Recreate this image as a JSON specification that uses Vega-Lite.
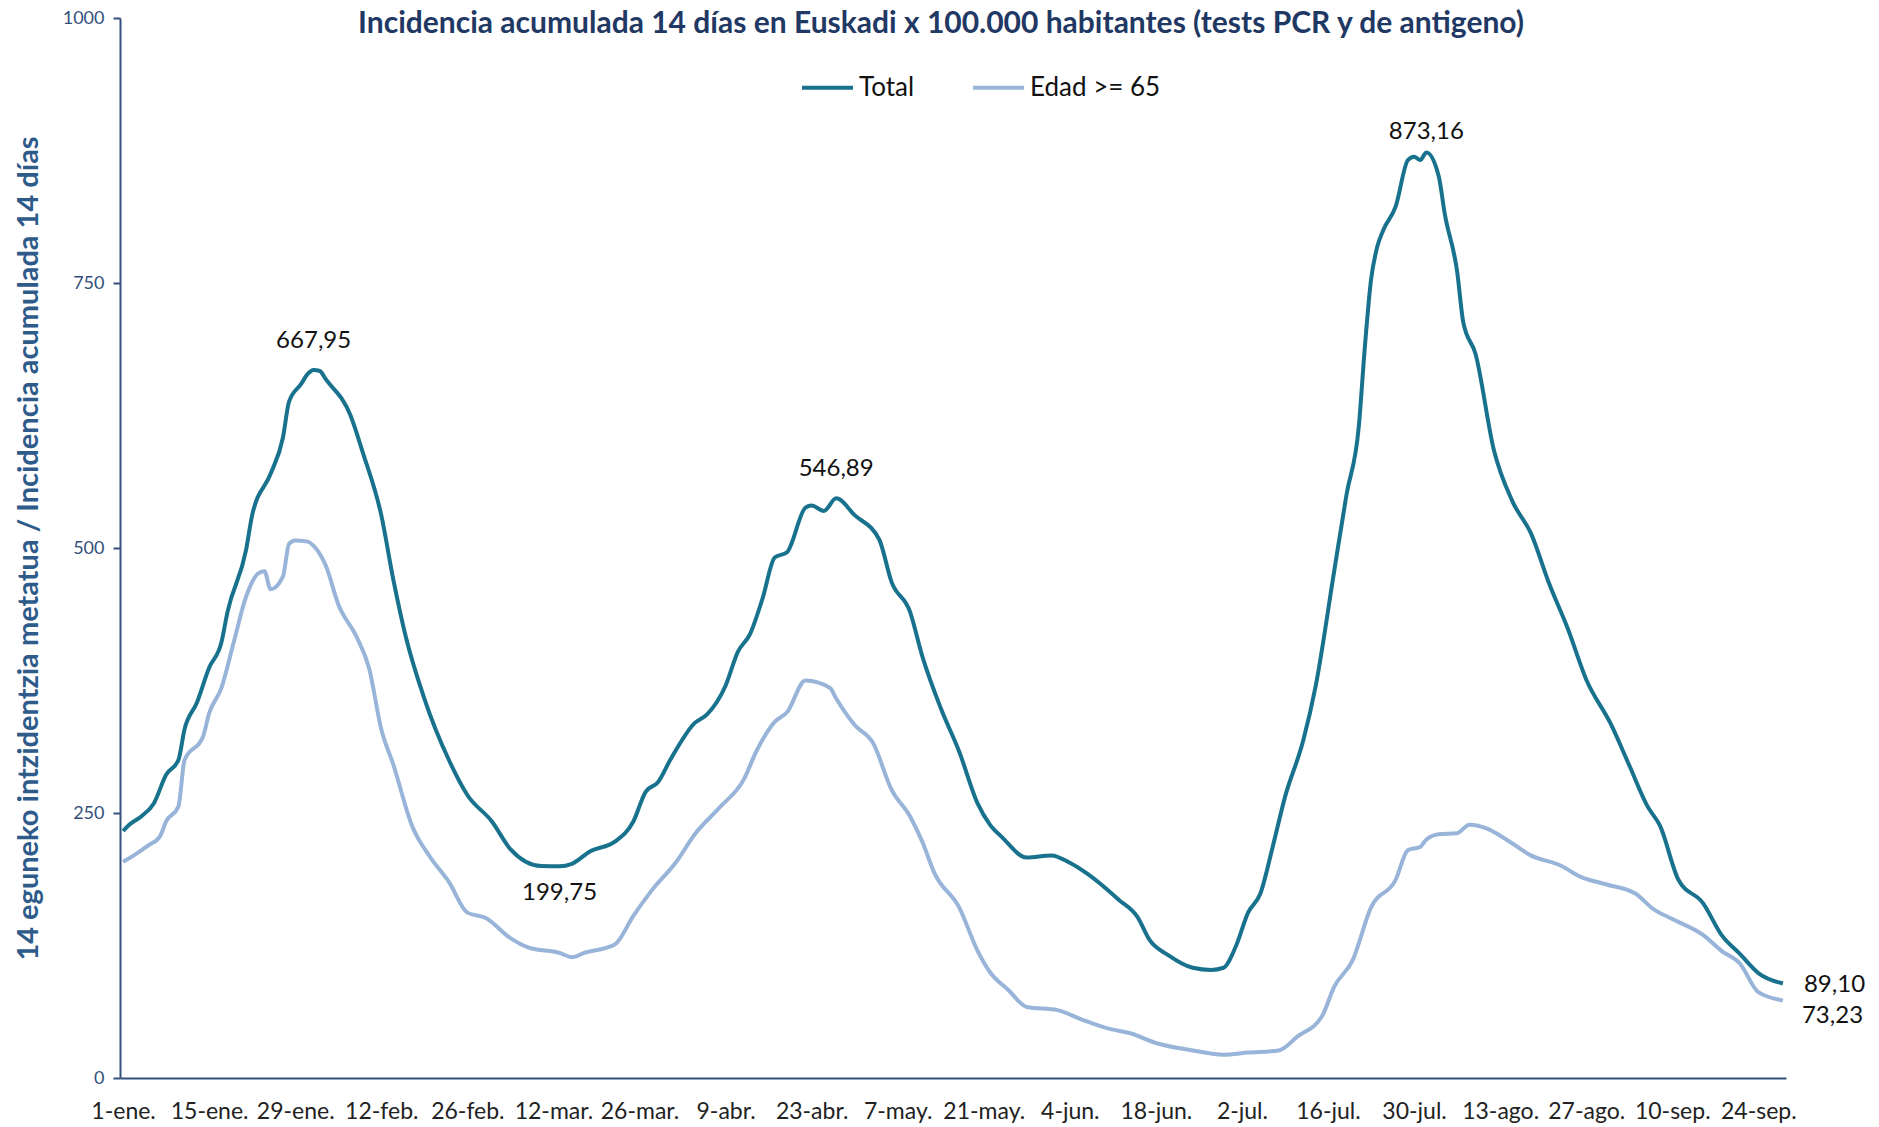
{
  "$schema": "https://vega.github.io/schema/vega-lite/v6.json",
  "width": 1666,
  "height": 1060,
  "autosize": {"type": "none"},
  "padding": {"left": 120, "top": 18, "right": 93, "bottom": 49},
  "background": "white",
  "title": {
    "text": "Incidencia acumulada 14 días en Euskadi x 100.000 habitantes (tests PCR y de antigeno)",
    "font": "Lato",
    "fontSize": 30,
    "fontWeight": "bold",
    "color": "#1f3864",
    "anchor": "middle",
    "offset": -30,
    "dx": -12
  },
  "datasets": {
    "series": [
      {"date": "2021-01-01", "serie": "Total", "value": 233},
      {"date": "2021-01-02", "serie": "Total", "value": 239},
      {"date": "2021-01-04", "serie": "Total", "value": 247},
      {"date": "2021-01-06", "serie": "Total", "value": 259},
      {"date": "2021-01-08", "serie": "Total", "value": 286},
      {"date": "2021-01-10", "serie": "Total", "value": 300},
      {"date": "2021-01-11", "serie": "Total", "value": 329},
      {"date": "2021-01-13", "serie": "Total", "value": 354},
      {"date": "2021-01-15", "serie": "Total", "value": 387},
      {"date": "2021-01-17", "serie": "Total", "value": 411},
      {"date": "2021-01-18", "serie": "Total", "value": 440},
      {"date": "2021-01-21", "serie": "Total", "value": 498},
      {"date": "2021-01-22", "serie": "Total", "value": 531},
      {"date": "2021-01-25", "serie": "Total", "value": 570},
      {"date": "2021-01-27", "serie": "Total", "value": 604},
      {"date": "2021-01-28", "serie": "Total", "value": 638},
      {"date": "2021-01-30", "serie": "Total", "value": 655},
      {"date": "2021-01-31", "serie": "Total", "value": 664},
      {"date": "2021-02-01", "serie": "Total", "value": 667.95},
      {"date": "2021-02-02", "serie": "Total", "value": 667},
      {"date": "2021-02-03", "serie": "Total", "value": 659},
      {"date": "2021-02-07", "serie": "Total", "value": 625},
      {"date": "2021-02-09", "serie": "Total", "value": 590},
      {"date": "2021-02-12", "serie": "Total", "value": 531},
      {"date": "2021-02-14", "serie": "Total", "value": 469},
      {"date": "2021-02-16", "serie": "Total", "value": 416},
      {"date": "2021-02-19", "serie": "Total", "value": 358},
      {"date": "2021-02-23", "serie": "Total", "value": 300},
      {"date": "2021-02-26", "serie": "Total", "value": 267},
      {"date": "2021-03-02", "serie": "Total", "value": 242},
      {"date": "2021-03-05", "serie": "Total", "value": 216},
      {"date": "2021-03-10", "serie": "Total", "value": 200},
      {"date": "2021-03-13", "serie": "Total", "value": 199.75},
      {"date": "2021-03-15", "serie": "Total", "value": 202},
      {"date": "2021-03-18", "serie": "Total", "value": 214},
      {"date": "2021-03-22", "serie": "Total", "value": 223},
      {"date": "2021-03-25", "serie": "Total", "value": 242},
      {"date": "2021-03-27", "serie": "Total", "value": 270},
      {"date": "2021-03-29", "serie": "Total", "value": 279},
      {"date": "2021-03-31", "serie": "Total", "value": 300},
      {"date": "2021-04-04", "serie": "Total", "value": 335},
      {"date": "2021-04-06", "serie": "Total", "value": 343},
      {"date": "2021-04-09", "serie": "Total", "value": 370},
      {"date": "2021-04-11", "serie": "Total", "value": 402},
      {"date": "2021-04-13", "serie": "Total", "value": 419},
      {"date": "2021-04-15", "serie": "Total", "value": 452},
      {"date": "2021-04-17", "serie": "Total", "value": 491},
      {"date": "2021-04-19", "serie": "Total", "value": 496},
      {"date": "2021-04-22", "serie": "Total", "value": 538},
      {"date": "2021-04-23", "serie": "Total", "value": 540},
      {"date": "2021-04-25", "serie": "Total", "value": 535},
      {"date": "2021-04-27", "serie": "Total", "value": 546.89},
      {"date": "2021-04-30", "serie": "Total", "value": 531},
      {"date": "2021-05-04", "serie": "Total", "value": 508},
      {"date": "2021-05-06", "serie": "Total", "value": 468},
      {"date": "2021-05-09", "serie": "Total", "value": 440},
      {"date": "2021-05-11", "serie": "Total", "value": 398},
      {"date": "2021-05-14", "serie": "Total", "value": 349},
      {"date": "2021-05-17", "serie": "Total", "value": 308},
      {"date": "2021-05-20", "serie": "Total", "value": 259},
      {"date": "2021-05-22", "serie": "Total", "value": 239},
      {"date": "2021-05-24", "serie": "Total", "value": 227},
      {"date": "2021-05-28", "serie": "Total", "value": 208},
      {"date": "2021-06-01", "serie": "Total", "value": 210},
      {"date": "2021-06-04", "serie": "Total", "value": 203},
      {"date": "2021-06-07", "serie": "Total", "value": 192},
      {"date": "2021-06-12", "serie": "Total", "value": 168},
      {"date": "2021-06-15", "serie": "Total", "value": 152},
      {"date": "2021-06-17", "serie": "Total", "value": 130},
      {"date": "2021-06-20", "serie": "Total", "value": 116},
      {"date": "2021-06-24", "serie": "Total", "value": 104},
      {"date": "2021-06-27", "serie": "Total", "value": 102},
      {"date": "2021-06-29", "serie": "Total", "value": 104},
      {"date": "2021-07-01", "serie": "Total", "value": 124},
      {"date": "2021-07-03", "serie": "Total", "value": 156},
      {"date": "2021-07-05", "serie": "Total", "value": 174},
      {"date": "2021-07-07", "serie": "Total", "value": 218},
      {"date": "2021-07-09", "serie": "Total", "value": 265},
      {"date": "2021-07-12", "serie": "Total", "value": 319},
      {"date": "2021-07-14", "serie": "Total", "value": 370},
      {"date": "2021-07-17", "serie": "Total", "value": 478},
      {"date": "2021-07-19", "serie": "Total", "value": 550},
      {"date": "2021-07-21", "serie": "Total", "value": 614},
      {"date": "2021-07-22", "serie": "Total", "value": 690},
      {"date": "2021-07-23", "serie": "Total", "value": 753},
      {"date": "2021-07-24", "serie": "Total", "value": 784},
      {"date": "2021-07-25", "serie": "Total", "value": 800},
      {"date": "2021-07-27", "serie": "Total", "value": 822},
      {"date": "2021-07-29", "serie": "Total", "value": 866},
      {"date": "2021-07-30", "serie": "Total", "value": 869},
      {"date": "2021-07-31", "serie": "Total", "value": 866},
      {"date": "2021-08-01", "serie": "Total", "value": 873.16},
      {"date": "2021-08-03", "serie": "Total", "value": 851},
      {"date": "2021-08-04", "serie": "Total", "value": 815},
      {"date": "2021-08-06", "serie": "Total", "value": 761},
      {"date": "2021-08-07", "serie": "Total", "value": 713},
      {"date": "2021-08-09", "serie": "Total", "value": 683},
      {"date": "2021-08-12", "serie": "Total", "value": 592},
      {"date": "2021-08-15", "serie": "Total", "value": 544},
      {"date": "2021-08-18", "serie": "Total", "value": 514},
      {"date": "2021-08-21", "serie": "Total", "value": 466},
      {"date": "2021-08-24", "serie": "Total", "value": 424},
      {"date": "2021-08-27", "serie": "Total", "value": 376},
      {"date": "2021-08-31", "serie": "Total", "value": 334},
      {"date": "2021-09-03", "serie": "Total", "value": 295},
      {"date": "2021-09-06", "serie": "Total", "value": 256},
      {"date": "2021-09-08", "serie": "Total", "value": 238},
      {"date": "2021-09-11", "serie": "Total", "value": 187},
      {"date": "2021-09-15", "serie": "Total", "value": 165},
      {"date": "2021-09-18", "serie": "Total", "value": 135},
      {"date": "2021-09-21", "serie": "Total", "value": 117},
      {"date": "2021-09-24", "serie": "Total", "value": 99},
      {"date": "2021-09-28", "serie": "Total", "value": 89.1},
      {"date": "2021-01-01", "serie": "Edad >= 65", "value": 204},
      {"date": "2021-01-03", "serie": "Edad >= 65", "value": 211},
      {"date": "2021-01-05", "serie": "Edad >= 65", "value": 219},
      {"date": "2021-01-07", "serie": "Edad >= 65", "value": 228},
      {"date": "2021-01-08", "serie": "Edad >= 65", "value": 242},
      {"date": "2021-01-10", "serie": "Edad >= 65", "value": 256},
      {"date": "2021-01-11", "serie": "Edad >= 65", "value": 300},
      {"date": "2021-01-14", "serie": "Edad >= 65", "value": 322},
      {"date": "2021-01-15", "serie": "Edad >= 65", "value": 344},
      {"date": "2021-01-17", "serie": "Edad >= 65", "value": 368},
      {"date": "2021-01-19", "serie": "Edad >= 65", "value": 411},
      {"date": "2021-01-21", "serie": "Edad >= 65", "value": 454},
      {"date": "2021-01-23", "serie": "Edad >= 65", "value": 476},
      {"date": "2021-01-24", "serie": "Edad >= 65", "value": 478},
      {"date": "2021-01-25", "serie": "Edad >= 65", "value": 461},
      {"date": "2021-01-27", "serie": "Edad >= 65", "value": 473},
      {"date": "2021-01-28", "serie": "Edad >= 65", "value": 504},
      {"date": "2021-01-29", "serie": "Edad >= 65", "value": 507},
      {"date": "2021-01-31", "serie": "Edad >= 65", "value": 506},
      {"date": "2021-02-01", "serie": "Edad >= 65", "value": 502},
      {"date": "2021-02-03", "serie": "Edad >= 65", "value": 483},
      {"date": "2021-02-05", "serie": "Edad >= 65", "value": 447},
      {"date": "2021-02-08", "serie": "Edad >= 65", "value": 416},
      {"date": "2021-02-10", "serie": "Edad >= 65", "value": 387},
      {"date": "2021-02-12", "serie": "Edad >= 65", "value": 329},
      {"date": "2021-02-14", "serie": "Edad >= 65", "value": 295},
      {"date": "2021-02-17", "serie": "Edad >= 65", "value": 238},
      {"date": "2021-02-20", "serie": "Edad >= 65", "value": 208},
      {"date": "2021-02-23", "serie": "Edad >= 65", "value": 185},
      {"date": "2021-02-26", "serie": "Edad >= 65", "value": 156},
      {"date": "2021-03-01", "serie": "Edad >= 65", "value": 151},
      {"date": "2021-03-05", "serie": "Edad >= 65", "value": 132},
      {"date": "2021-03-08", "serie": "Edad >= 65", "value": 123},
      {"date": "2021-03-13", "serie": "Edad >= 65", "value": 118},
      {"date": "2021-03-15", "serie": "Edad >= 65", "value": 114},
      {"date": "2021-03-17", "serie": "Edad >= 65", "value": 118},
      {"date": "2021-03-22", "serie": "Edad >= 65", "value": 126},
      {"date": "2021-03-25", "serie": "Edad >= 65", "value": 153},
      {"date": "2021-03-28", "serie": "Edad >= 65", "value": 177},
      {"date": "2021-04-01", "serie": "Edad >= 65", "value": 204},
      {"date": "2021-04-04", "serie": "Edad >= 65", "value": 230},
      {"date": "2021-04-08", "serie": "Edad >= 65", "value": 255},
      {"date": "2021-04-12", "serie": "Edad >= 65", "value": 282},
      {"date": "2021-04-14", "serie": "Edad >= 65", "value": 308},
      {"date": "2021-04-17", "serie": "Edad >= 65", "value": 336},
      {"date": "2021-04-19", "serie": "Edad >= 65", "value": 345},
      {"date": "2021-04-22", "serie": "Edad >= 65", "value": 375},
      {"date": "2021-04-26", "serie": "Edad >= 65", "value": 368},
      {"date": "2021-04-27", "serie": "Edad >= 65", "value": 358},
      {"date": "2021-04-30", "serie": "Edad >= 65", "value": 333},
      {"date": "2021-05-03", "serie": "Edad >= 65", "value": 316},
      {"date": "2021-05-06", "serie": "Edad >= 65", "value": 272},
      {"date": "2021-05-09", "serie": "Edad >= 65", "value": 247},
      {"date": "2021-05-11", "serie": "Edad >= 65", "value": 223},
      {"date": "2021-05-13", "serie": "Edad >= 65", "value": 193},
      {"date": "2021-05-17", "serie": "Edad >= 65", "value": 161},
      {"date": "2021-05-20", "serie": "Edad >= 65", "value": 120},
      {"date": "2021-05-22", "serie": "Edad >= 65", "value": 100},
      {"date": "2021-05-25", "serie": "Edad >= 65", "value": 83},
      {"date": "2021-05-28", "serie": "Edad >= 65", "value": 67},
      {"date": "2021-06-02", "serie": "Edad >= 65", "value": 64},
      {"date": "2021-06-06", "serie": "Edad >= 65", "value": 55},
      {"date": "2021-06-10", "serie": "Edad >= 65", "value": 47},
      {"date": "2021-06-14", "serie": "Edad >= 65", "value": 42},
      {"date": "2021-06-18", "serie": "Edad >= 65", "value": 33},
      {"date": "2021-06-24", "serie": "Edad >= 65", "value": 26},
      {"date": "2021-06-29", "serie": "Edad >= 65", "value": 22},
      {"date": "2021-07-03", "serie": "Edad >= 65", "value": 24},
      {"date": "2021-07-08", "serie": "Edad >= 65", "value": 26},
      {"date": "2021-07-11", "serie": "Edad >= 65", "value": 39},
      {"date": "2021-07-15", "serie": "Edad >= 65", "value": 58},
      {"date": "2021-07-17", "serie": "Edad >= 65", "value": 86},
      {"date": "2021-07-20", "serie": "Edad >= 65", "value": 111},
      {"date": "2021-07-23", "serie": "Edad >= 65", "value": 161},
      {"date": "2021-07-27", "serie": "Edad >= 65", "value": 187},
      {"date": "2021-07-29", "serie": "Edad >= 65", "value": 215},
      {"date": "2021-07-31", "serie": "Edad >= 65", "value": 218},
      {"date": "2021-08-01", "serie": "Edad >= 65", "value": 225},
      {"date": "2021-08-03", "serie": "Edad >= 65", "value": 230},
      {"date": "2021-08-06", "serie": "Edad >= 65", "value": 231},
      {"date": "2021-08-08", "serie": "Edad >= 65", "value": 239},
      {"date": "2021-08-11", "serie": "Edad >= 65", "value": 235},
      {"date": "2021-08-14", "serie": "Edad >= 65", "value": 225},
      {"date": "2021-08-18", "serie": "Edad >= 65", "value": 210},
      {"date": "2021-08-23", "serie": "Edad >= 65", "value": 200},
      {"date": "2021-08-26", "serie": "Edad >= 65", "value": 190},
      {"date": "2021-08-30", "serie": "Edad >= 65", "value": 183},
      {"date": "2021-09-04", "serie": "Edad >= 65", "value": 174},
      {"date": "2021-09-07", "serie": "Edad >= 65", "value": 159},
      {"date": "2021-09-10", "serie": "Edad >= 65", "value": 150},
      {"date": "2021-09-15", "serie": "Edad >= 65", "value": 135},
      {"date": "2021-09-18", "serie": "Edad >= 65", "value": 120},
      {"date": "2021-09-21", "serie": "Edad >= 65", "value": 108},
      {"date": "2021-09-24", "serie": "Edad >= 65", "value": 81},
      {"date": "2021-09-28", "serie": "Edad >= 65", "value": 73.23}
    ]
  },
  "layer": [
    {
      "data": {"name": "series", "format": {"parse": {"date": "date:'%Y-%m-%d'"}}},
      "mark": {"type": "line", "strokeWidth": 4, "interpolate": "monotone"},
      "encoding": {
        "x": {
          "field": "date",
          "type": "temporal",
          "scale": {"domain": [{"year": 2020, "month": 12, "date": 31, "hours": 12}, {"year": 2021, "month": 9, "date": 28, "hours": 12}]},
          "axis": {
            "title": null,
            "values": [
              {"year": 2021, "month": 1, "date": 1},
              {"year": 2021, "month": 1, "date": 15},
              {"year": 2021, "month": 1, "date": 29},
              {"year": 2021, "month": 2, "date": 12},
              {"year": 2021, "month": 2, "date": 26},
              {"year": 2021, "month": 3, "date": 12},
              {"year": 2021, "month": 3, "date": 26},
              {"year": 2021, "month": 4, "date": 9},
              {"year": 2021, "month": 4, "date": 23},
              {"year": 2021, "month": 5, "date": 7},
              {"year": 2021, "month": 5, "date": 21},
              {"year": 2021, "month": 6, "date": 4},
              {"year": 2021, "month": 6, "date": 18},
              {"year": 2021, "month": 7, "date": 2},
              {"year": 2021, "month": 7, "date": 16},
              {"year": 2021, "month": 7, "date": 30},
              {"year": 2021, "month": 8, "date": 13},
              {"year": 2021, "month": 8, "date": 27},
              {"year": 2021, "month": 9, "date": 10},
              {"year": 2021, "month": 9, "date": 24}
            ],
            "labelExpr": "date(datum.value) + '-' + ['ene','feb','mar','abr','may','jun','jul','ago','sep','oct','nov','dic'][month(datum.value)] + '.'",
            "labelFont": "Lato",
            "labelFontSize": 23,
            "labelColor": "#222222",
            "labelPadding": 22,
            "labelOverlap": false,
            "labelFlush": false,
            "ticks": false,
            "grid": false,
            "domainColor": "#34507c",
            "domainWidth": 2
          }
        },
        "y": {
          "field": "value",
          "type": "quantitative",
          "scale": {"domain": [0, 1000], "nice": false},
          "axis": {
            "title": "14 eguneko intzidentzia metatua / Incidencia acumulada 14 días",
            "titleFont": "Lato",
            "titleFontSize": 29,
            "titleFontWeight": "bold",
            "titleColor": "#2e5b8a",
            "titlePadding": 19,
            "values": [0, 250, 500, 750, 1000],
            "format": "d",
            "labelFont": "Lato",
            "labelFontSize": 18,
            "labelColor": "#34507c",
            "labelPadding": 9,
            "tickSize": 7,
            "tickColor": "#34507c",
            "tickWidth": 2,
            "grid": false,
            "domainColor": "#34507c",
            "domainWidth": 2
          }
        },
        "color": {
          "field": "serie",
          "type": "nominal",
          "scale": {"domain": ["Total", "Edad >= 65"], "range": ["#19728d", "#98b4d8"]},
          "legend": {
            "title": null,
            "orient": "none",
            "direction": "horizontal",
            "legendX": 680,
            "legendY": 42,
            "symbolType": "stroke",
            "symbolSize": 2600,
            "symbolStrokeWidth": 4,
            "labelFont": "Lato",
            "labelFontSize": 26,
            "labelColor": "#111111",
            "labelOffset": 4,
            "columnPadding": 50
          }
        }
      }
    },
    {
      "data": {
        "values": [
          {"date": "2021-02-01", "value": 667.95, "label": "667,95", "pos": "above"},
          {"date": "2021-04-27", "value": 546.89, "label": "546,89", "pos": "above"},
          {"date": "2021-08-01", "value": 873.16, "label": "873,16", "pos": "peak"},
          {"date": "2021-03-13", "value": 199.75, "label": "199,75", "pos": "below"},
          {"date": "2021-09-28", "value": 89.1, "label": "89,10", "pos": "endTotal"},
          {"date": "2021-09-28", "value": 73.23, "label": "73,23", "pos": "endEdad"}
        ],
        "format": {"parse": {"date": "date:'%Y-%m-%d'"}}
      },
      "layer": [
        {
          "transform": [{"filter": "datum.pos == 'above'"}],
          "mark": {"type": "text", "font": "Lato", "fontSize": 24, "fill": "#111111", "baseline": "bottom", "dy": -17},
          "encoding": {
            "x": {"field": "date", "type": "temporal"},
            "y": {"field": "value", "type": "quantitative"},
            "text": {"field": "label", "type": "nominal"}
          }
        },
        {
          "transform": [{"filter": "datum.pos == 'peak'"}],
          "mark": {"type": "text", "font": "Lato", "fontSize": 24, "fill": "#111111", "baseline": "bottom", "dy": -8},
          "encoding": {
            "x": {"field": "date", "type": "temporal"},
            "y": {"field": "value", "type": "quantitative"},
            "text": {"field": "label", "type": "nominal"}
          }
        },
        {
          "transform": [{"filter": "datum.pos == 'below'"}],
          "mark": {"type": "text", "font": "Lato", "fontSize": 24, "fill": "#111111", "baseline": "middle", "dy": 27},
          "encoding": {
            "x": {"field": "date", "type": "temporal"},
            "y": {"field": "value", "type": "quantitative"},
            "text": {"field": "label", "type": "nominal"}
          }
        },
        {
          "transform": [{"filter": "datum.pos == 'endTotal'"}],
          "mark": {"type": "text", "font": "Lato", "fontSize": 24, "fill": "#111111", "align": "left", "baseline": "middle", "dx": 21, "dy": 1},
          "encoding": {
            "x": {"field": "date", "type": "temporal"},
            "y": {"field": "value", "type": "quantitative"},
            "text": {"field": "label", "type": "nominal"}
          }
        },
        {
          "transform": [{"filter": "datum.pos == 'endEdad'"}],
          "mark": {"type": "text", "font": "Lato", "fontSize": 24, "fill": "#111111", "align": "left", "baseline": "middle", "dx": 19, "dy": 16},
          "encoding": {
            "x": {"field": "date", "type": "temporal"},
            "y": {"field": "value", "type": "quantitative"},
            "text": {"field": "label", "type": "nominal"}
          }
        }
      ]
    }
  ],
  "config": {
    "view": {"stroke": null},
    "font": "Lato"
  }
}
